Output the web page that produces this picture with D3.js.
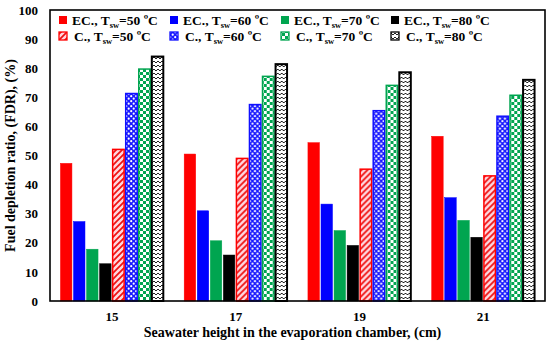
<!DOCTYPE html>
<html>
<head>
<meta charset="utf-8">
<script src="https://cdn.jsdelivr.net/npm/d3@7"></script>
<style>
  body { margin: 0; background: #fff; }
  text { font-family: "Liberation Serif", "Times New Roman", serif; font-weight: bold; }
</style>
</head>
<body>
<div id="chart"></div>
<script>
// Fuel depletion ratio vs seawater height - grouped bars

// === DATA ===
const heights = ['15', '17', '19', '21'];
const seriesKeys = ['ec50', 'ec60', 'ec70', 'ec80', 'c50', 'c60', 'c70', 'c80'];
const seriesPrefix = ['EC.,', 'EC.,', 'EC.,', 'EC.,', 'C.,', 'C.,', 'C.,', 'C.,'];
const seriesTemp = ['50', '60', '70', '80', '50', '60', '70', '80'];

const ec50 = [47.3, 50.5, 54.4, 56.6];
const ec60 = [27.3, 31.0, 33.3, 35.5];
const ec70 = [17.8, 20.7, 24.2, 27.7];
const ec80 = [12.8, 15.8, 19.1, 21.9];
const c50 = [52.1, 49.0, 45.3, 43.0];
const c60 = [71.3, 67.5, 65.4, 63.5];
const c70 = [79.7, 77.2, 74.1, 70.7];
const c80 = [84.0, 81.4, 78.6, 76.0];
const values = { ec50, ec60, ec70, ec80, c50, c60, c70, c80 };

const yTicks = [0, 10, 20, 30, 40, 50, 60, 70, 80, 90, 100];

// === LAYOUT ===
const width = 550, height = 345;
const plotLeft = 50, plotRight = 545, plotTop = 10, plotBottom = 301;

const svg = d3.select('#chart').append('svg')
    .attr('width', width)
    .attr('height', height);

// patterns for the "C." series
const defs = svg.append('defs');

const hatch = defs.append('pattern').attr('id', 'p-c50')
    .attr('patternUnits', 'userSpaceOnUse').attr('width', 6).attr('height', 6);
hatch.append('rect').attr('width', 6).attr('height', 6).attr('fill', '#ffd6de');
hatch.append('path').attr('d', 'M-1,7 L7,-1 M-4,4 L4,-4 M2,10 L10,2')
    .attr('stroke', '#ee1111').attr('stroke-width', 1.7);

const dots = defs.append('pattern').attr('id', 'p-c60')
    .attr('patternUnits', 'userSpaceOnUse').attr('width', 5).attr('height', 5);
dots.append('rect').attr('width', 5).attr('height', 5).attr('fill', '#1a1aff');
dots.append('circle').attr('cx', 1.2).attr('cy', 1.2).attr('r', 1.1).attr('fill', '#fff');
dots.append('circle').attr('cx', 3.7).attr('cy', 3.7).attr('r', 1.1).attr('fill', '#fff');

const check = defs.append('pattern').attr('id', 'p-c70')
    .attr('patternUnits', 'userSpaceOnUse').attr('width', 6).attr('height', 6);
check.append('rect').attr('width', 6).attr('height', 6).attr('fill', '#ffffff');
check.append('rect').attr('width', 3).attr('height', 3).attr('fill', '#00a550');
check.append('rect').attr('x', 3).attr('y', 3).attr('width', 3).attr('height', 3).attr('fill', '#00a550');

const wave = defs.append('pattern').attr('id', 'p-c80')
    .attr('patternUnits', 'userSpaceOnUse').attr('width', 4).attr('height', 4);
wave.append('rect').attr('width', 4).attr('height', 4).attr('fill', '#ffffff');
wave.append('path').attr('d', 'M0,1 L2,3 L4,1')
    .attr('stroke', '#222').attr('stroke-width', 1).attr('fill', 'none');

const style = {
    ec50: { fill: '#ff0000', stroke: '#ff0000', sw: 0.5 },
    ec60: { fill: '#0000ff', stroke: '#0000ff', sw: 0.5 },
    ec70: { fill: '#00a550', stroke: '#00a550', sw: 0.5 },
    ec80: { fill: '#000000', stroke: '#000000', sw: 0.5 },
    c50: { fill: 'url(#p-c50)', stroke: '#ff0000', sw: 1.5 },
    c60: { fill: 'url(#p-c60)', stroke: '#1010ff', sw: 1.5 },
    c70: { fill: 'url(#p-c70)', stroke: '#00a550', sw: 1.5 },
    c80: { fill: 'url(#p-c80)', stroke: '#000000', sw: 2 }
};

// scales
const x0 = d3.scaleBand().domain(heights).range([plotLeft, plotRight]).padding(0);
const x1 = d3.scaleBand().domain(seriesKeys).range([0, x0.bandwidth()])
    .paddingInner(0.12).paddingOuter(0.8);
const y = d3.scaleLinear().domain([0, 100]).range([plotBottom, plotTop]);

// bars
const groups = svg.append('g').selectAll('g')
    .data(heights)
    .enter().append('g')
    .attr('transform', d => `translate(${x0(d)},0)`);

groups.selectAll('rect')
    .data((h, i) => seriesKeys.map(k => ({ key: k, v: values[k][i] })))
    .enter().append('rect')
    .attr('x', d => x1(d.key))
    .attr('y', d => y(d.v))
    .attr('width', x1.bandwidth())
    .attr('height', d => y(0) - y(d.v))
    .attr('fill', d => style[d.key].fill)
    .attr('stroke', d => style[d.key].stroke)
    .attr('stroke-width', d => style[d.key].sw);

// axes (labels only, no tick marks)
const yAxis = svg.append('g')
    .attr('transform', `translate(${plotLeft},0)`)
    .call(d3.axisLeft(y).tickValues(yTicks).tickSize(0).tickPadding(12));
yAxis.select('.domain').remove();
yAxis.selectAll('text')
    .attr('font-size', '13px')
    .attr('fill', '#000')
    .style('font-family', '"Liberation Serif", serif')
    .style('font-weight', 'bold');

const xAxis = svg.append('g')
    .attr('transform', `translate(0,${plotBottom})`)
    .call(d3.axisBottom(x0).tickSize(0).tickPadding(11));
xAxis.select('.domain').remove();
xAxis.selectAll('text')
    .attr('font-size', '13px')
    .attr('fill', '#000')
    .style('font-family', '"Liberation Serif", serif')
    .style('font-weight', 'bold');

// frame
svg.append('rect')
    .attr('x', plotLeft).attr('y', plotTop)
    .attr('width', plotRight - plotLeft).attr('height', plotBottom - plotTop)
    .attr('fill', 'none')
    .attr('stroke', '#000')
    .attr('stroke-width', 1.6);

// axis titles
svg.append('text')
    .attr('x', (plotLeft + plotRight) / 2 - 5)
    .attr('y', 337)
    .attr('text-anchor', 'middle')
    .attr('font-size', '14px')
    .text('Seawater height in the evaporation chamber, (cm)');

svg.append('text')
    .attr('transform', `translate(15,${(plotTop + plotBottom) / 2}) rotate(-90)`)
    .attr('text-anchor', 'middle')
    .attr('font-size', '14px')
    .text('Fuel depletion ratio, (FDR), (%)');

// legend
const legendX = [63, 174, 285, 395];
const legendY = [20, 36];
const legend = svg.append('g').selectAll('g')
    .data(seriesKeys)
    .enter().append('g')
    .attr('transform', (d, i) => `translate(${legendX[i % 4]},${legendY[Math.floor(i / 4)]})`);

legend.append('rect')
    .attr('x', -4).attr('y', -4)
    .attr('width', 8).attr('height', 8)
    .attr('fill', d => style[d].fill)
    .attr('stroke', d => style[d].stroke)
    .attr('stroke-width', d => d.startsWith('c') ? 1.3 : 0);

const lt = legend.append('text')
    .attr('x', (d, i) => i < 4 ? 9 : 11)
    .attr('y', 5)
    .attr('font-size', '13.5px');
lt.append('tspan').text((d, i) => seriesPrefix[i] + ' T');
lt.append('tspan').attr('font-size', '8.5px').attr('dy', 2.5).text('sw');
lt.append('tspan').attr('dy', -2.5).text((d, i) => '=' + seriesTemp[i] + ' \u00baC');
</script>
</body>
</html>
